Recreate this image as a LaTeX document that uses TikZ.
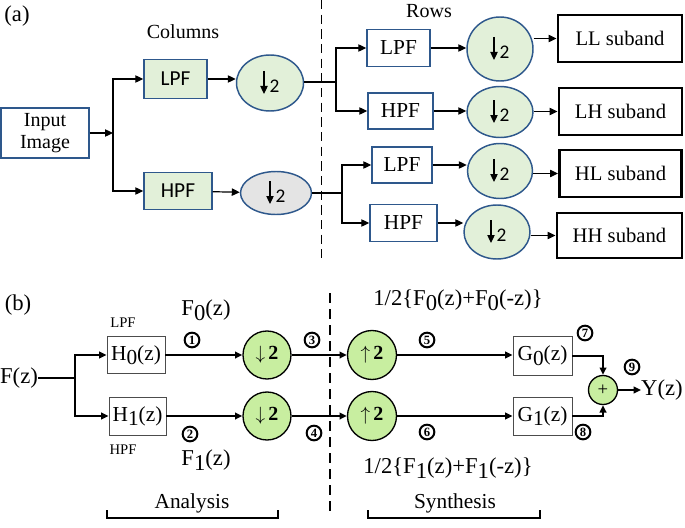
\documentclass[tikz,border=0pt]{standalone}
\usepackage{fontspec}
\setmainfont{Liberation Serif}
\newfontfamily\carl{Carlito}
\usetikzlibrary{shapes.geometric,arrows.meta}
\definecolor{boxblue}{RGB}{46,88,140}
\definecolor{lgreen}{RGB}{226,240,217}
\definecolor{lgray}{RGB}{228,228,228}
\definecolor{bgreen}{RGB}{200,238,160}
\newcommand\lsub[1]{\raisebox{-0.45ex}{#1}}
\newcommand\downtwo[1]{%
  \draw[-{Triangle[length=6pt,width=5.5pt]},line width=0.9pt] ([shift={(-6,-12)}]#1.center) -- ([shift={(-6,11)}]#1.center);
  \node[font=\carl\fontsize{14.5}{15}\selectfont] (#1-two) at ([shift={(4.5,3)}]#1.center) {2};}
\begin{document}
\begin{tikzpicture}[x=0.75pt,y=-0.75pt,
  sz/.style 2 args={minimum width={#1*0.75pt}, minimum height={#2*0.75pt}},
  txt/.style={font=\fontsize{15}{17}\selectfont, inner sep=0pt},
  btxt/.style={font=\fontsize{16}{18}\selectfont, inner sep=0pt},
  ltxt/.style={font=\fontsize{17}{19}\selectfont, inner sep=0pt},
  stxt/.style={font=\fontsize{11}{12}\selectfont, inner sep=0pt},
  bluebox/.style={draw=boxblue, line width=1.1pt, rectangle, inner sep=0pt, align=center},
  cbox/.style={bluebox, fill=lgreen, font=\carl\fontsize{16}{18}\selectfont},
  rbox/.style={bluebox, fill=white, font=\fontsize{16}{18}\selectfont},
  subbox/.style={draw=black, line width=2.2pt, rectangle, inner sep=0pt, font=\fontsize{15.5}{18}\selectfont},
  ell/.style={ellipse, draw=boxblue, line width=1.1pt, fill=lgreen, inner sep=0pt},
  conn/.style={line width=0.9pt, -{Triangle[length=6pt,width=5.5pt]}},
  plain/.style={line width=0.9pt},
  bconn/.style={line width=1.5pt, -{Triangle[length=5.5pt,width=5pt]}},
  bplain/.style={line width=1.5pt},
  hbox/.style={draw=black!70, line width=0.7pt, rectangle, inner sep=0pt, font=\fontsize{16}{18}\selectfont},
  gcirc/.style={circle, draw=black, line width=1pt, fill=bgreen, inner sep=0pt, font=\fontsize{15}{15}\selectfont},
  num/.style={circle, draw=black, line width=1.5pt, inner sep=0pt, minimum size=11pt, font=\bfseries\fontsize{9.5}{9.5}\selectfont}
]
\useasboundingbox (0,0) rectangle (685,528);

% ---------------- (a) ----------------
\node[txt, font=\fontsize{17}{18}\selectfont] (la) at (17,16) {(a)};
\node[txt] (cols) at (183,32) {Columns};
\node[txt] (rows) at (429,11) {Rows};

\draw[line width=0.7pt, dash pattern=on 7pt off 4pt] (321,0) -- (321,258);

\node[bluebox, sz={88}{50}, font=\fontsize{15}{16}\selectfont] (input) at (45,133) {Input\\Image};
\node[cbox, sz={63}{39}] (cL) at (175.5,79) {LPF};
\node[cbox, sz={68}{37}] (cH) at (178,191) {HPF};
\node[ell, sz={67}{56}] (e1) at (270,83) {};
\node[ell, fill=lgray, sz={71}{43}] (e2) at (276,193) {};
\downtwo{e1}
\downtwo{e2}

\coordinate (s1) at (113,133);
\draw[conn] (input) -- (s1);
\draw[conn] (s1) |- (cL);
\draw[conn] (s1) |- (cH);
\draw[conn] (cL) -- (cL -| e1.west);
\draw[conn] (cH) -- (e2);

% rows
\node[rbox, sz={63}{37}] (rL1) at (398.5,48) {LPF};
\node[rbox, sz={65}{36}] (rH1) at (400.5,111) {HPF};
\node[rbox, sz={60}{36}] (rL2) at (402,165) {LPF};
\node[rbox, sz={67}{37}] (rH2) at (403.5,223) {HPF};
\node[ell, sz={66}{64}] (r1) at (500,49) {};
\node[ell, sz={66}{51}] (r2) at (500,112) {};
\node[ell, sz={65}{55}] (r3) at (500,171) {};
\node[ell, sz={66}{54}] (r4) at (497,232) {};
\downtwo{r1}
\downtwo{r2}
\downtwo{r3}
\downtwo{r4}

\node[subbox, sz={124}{47}] (LL) at (620,38.5) {LL suband};
\node[subbox, sz={123}{47}] (LH) at (620.5,111.5) {LH suband};
\node[subbox, sz={122}{47}] (HL) at (620.5,173.5) {HL suband};
\node[subbox, sz={125}{45}] (HH) at (619.5,235.5) {HH suband};

\coordinate (s2) at (336,82);
\coordinate (s3) at (342,193);
\draw[plain] (e1.east |- s2) -- (s2);
\draw[conn] (s2) |- (rL1);
\draw[conn] (s2) |- (rH1);
\draw[plain] (e2) -- (s3);
\draw[conn] (s3) |- (rL2);
\draw[conn] (s3) |- (rH2);

\draw[conn] (rL1.east) -- (rL1.east -| r1.west);
\draw[conn] (rH1.east) -- (rH1.east -| r2.west);
\draw[conn] (rL2.east) -- (rL2.east -| r3.west);
\draw[conn] (rH2.east) -- (rH2.east -| r4.west);

\draw[conn] (LL.west -| r1.east) -- (LL.west);
\draw[conn] (LH.west -| r2.east) -- (LH.west);
\draw[conn] (HL.west -| r3.east) -- (HL.west);
\draw[conn] (HH.west -| r4.east) -- (HH.west);

% ---------------- (b) ----------------
\node[ltxt] (lb) at (18,305) {(b)};
\node[ltxt] (Fz) at (19,378) {F(z)};
\node[hbox, sz={58}{37}] (H0) at (136,355) {H\lsub{0}(z)};
\node[hbox, sz={57}{38}] (H1) at (137.5,416) {H\lsub{1}(z)};
\node[gcirc, sz={48}{48}] (d1) at (267,355) {$\downarrow$\,\textbf{2}};
\node[gcirc, sz={48}{48}] (d2) at (267,416) {$\downarrow$\,\textbf{2}};
\node[gcirc, sz={49}{49}] (u1) at (372,355) {$\uparrow$\,\textbf{2}};
\node[gcirc, sz={49}{49}] (u2) at (372,416) {$\uparrow$\,\textbf{2}};
\node[hbox, sz={59}{39}] (G0) at (542.5,355.5) {G\lsub{0}(z)};
\node[hbox, sz={59}{38}] (G1) at (542.5,416) {G\lsub{1}(z)};
\node[gcirc, sz={29}{29}, font=\fontsize{14}{14}\selectfont] (plus) at (603,390) {+};
\node[ltxt] (Yz) at (662,390) {Y(z)};

\draw[line width=1.5pt, dash pattern=on 7.5pt off 4.5pt] (330,293) -- (330,512);

\coordinate (s4) at (75,378);
\draw[bplain] (Fz) -- (s4);
\draw[bconn] (s4) |- (H0);
\draw[bconn] (s4) |- (H1);
\draw[bconn] (H0) -- (d1);
\draw[bconn] (H1) -- (d2);
\draw[bconn] (d1) -- (u1);
\draw[bconn] (d2) -- (u2);
\draw[bconn] (u1) -- (G0.west |- u1);
\draw[bconn] (u2) -- (G1.west |- u2);
\draw[bconn] (G0.east) -| (plus.north);
\draw[bconn] (G1.east) -| (plus.south);
\draw[bconn] (plus) -- (Yz);

\node[ltxt] (F0) at (206,310) {F\lsub{0}(z)};
\node[ltxt] (F1) at (206,460) {F\lsub{1}(z)};
\node[stxt] (lpf) at (123,323) {LPF};
\node[stxt] (hpf) at (123,450) {HPF};
\node[ltxt] (half0) at (458,300) {1/2\{F\lsub{0}(z)+F\lsub{0}(-z)\}};
\node[ltxt] (half1) at (448,468) {1/2\{F\lsub{1}(z)+F\lsub{1}(-z)\}};

\node[num] (n1) at (192,340) {1};
\node[num] (n2) at (190,434) {2};
\node[num] (n3) at (312,340) {3};
\node[num] (n4) at (314,433) {4};
\node[num] (n5) at (427,340) {5};
\node[num] (n6) at (427,432) {6};
\node[num] (n7) at (585,333) {7};
\node[num] (n8) at (583,432) {8};
\node[num] (n9) at (632,367) {9};

\node[btxt] (ana) at (192,503) {Analysis};
\node[btxt] (syn) at (455,503) {Synthesis};
\draw[line width=2pt] (107,510) -- (107,518) -- (278,518) -- (278,510);
\draw[line width=2pt] (368,510) -- (368,518) -- (540,518) -- (540,510);
\end{tikzpicture}
\end{document}
